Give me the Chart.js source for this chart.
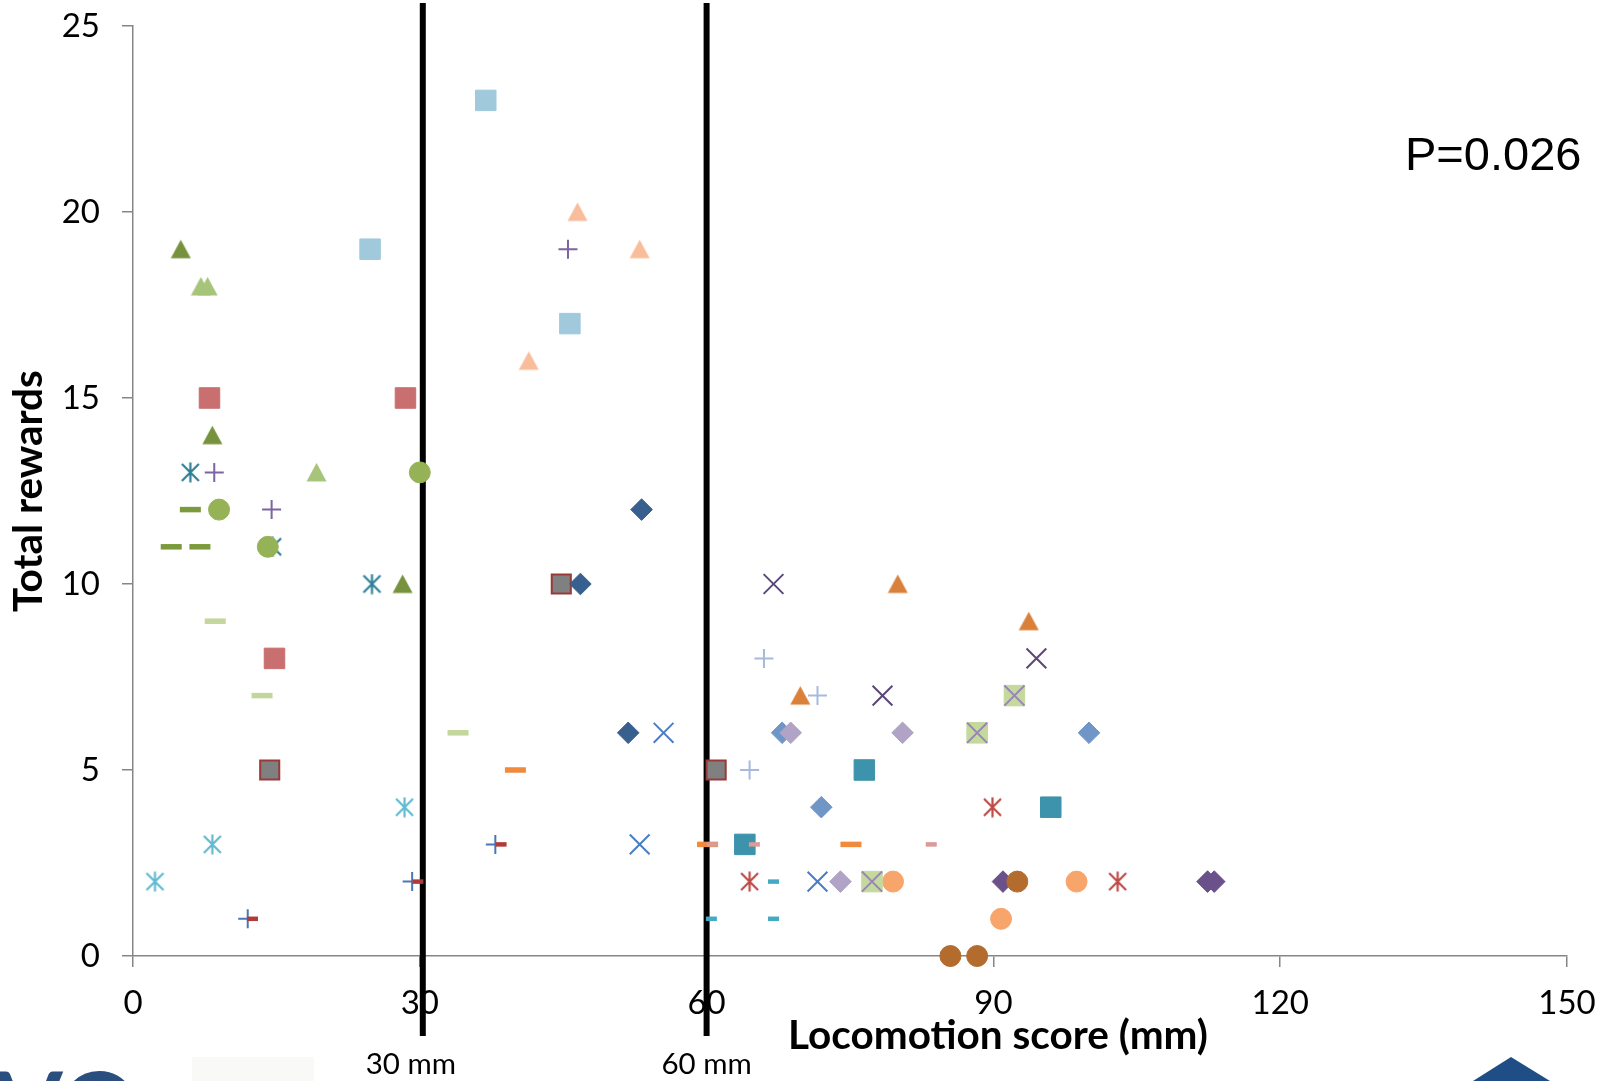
<!DOCTYPE html>
<html>
<head>
<meta charset="utf-8">
<script src="https://cdn.jsdelivr.net/npm/chart.js@4.4.1/dist/chart.umd.min.js"></script>
<style>
    html, body { margin: 0; padding: 0; background: #fff; }
</style>
</head>
<body>
<canvas id="myChart" width="1608" height="1081"></canvas>
<script>
const xTicks = [0, 30, 60, 90, 120, 150];
const yTicks = [0, 5, 10, 15, 20, 25];
const thresholds = [30, 60];
const thresholdLabels = ['30 mm', '60 mm'];
const xTitle = 'Locomotion score (mm)';
const yTitle = 'Total rewards';
const pValueText = 'P=0.026';

// one row per animal, three sessions each
const locomotion = [
    [5.0, 8.3, 28.2],
    [7.1, 7.8, 19.2],
    [8.0, 14.8, 28.5],
    [6.0, 14.6, 25.0],
    [8.5, 14.5, 45.5],
    [6.0, 4.0, 7.0],
    [9.0, 14.1, 30.0],
    [8.6, 13.5, 34.0],
    [14.3, 44.8, 61.0],
    [2.3, 8.3, 28.4],
    [12.0, 29.2, 37.9],
    [12.5, 29.8, 38.5],
    [24.8, 36.9, 45.7],
    [41.4, 46.5, 53.0],
    [46.8, 51.8, 53.2],
    [40.0, 60.1, 75.1],
    [53.0, 55.5, 71.6],
    [60.6, 65.0, 83.5],
    [64.0, 76.5, 96.0],
    [60.5, 67.0, 67.0],
    [64.5, 89.9, 103.0],
    [67.0, 78.4, 94.5],
    [69.8, 80.0, 93.7],
    [64.5, 66.0, 71.6],
    [67.9, 72.0, 100.0],
    [68.8, 74.0, 80.5],
    [77.3, 88.3, 92.2],
    [79.5, 90.8, 98.7],
    [85.5, 88.3, 92.5],
    [91.0, 112.4, 113.1]
];
const rewards = [
    [19, 14, 10],
    [18, 18, 13],
    [15, 8, 15],
    [13, 11, 10],
    [13, 12, 19],
    [12, 11, 11],
    [12, 11, 13],
    [9, 7, 6],
    [5, 10, 5],
    [2, 3, 4],
    [1, 2, 3],
    [1, 2, 3],
    [19, 23, 17],
    [16, 20, 19],
    [10, 6, 12],
    [5, 3, 3],
    [3, 6, 2],
    [3, 3, 3],
    [3, 5, 4],
    [1, 2, 1],
    [2, 4, 2],
    [10, 7, 8],
    [7, 10, 9],
    [5, 8, 7],
    [6, 4, 6],
    [6, 2, 6],
    [2, 6, 7],
    [2, 1, 2],
    [0, 0, 2],
    [2, 2, 2]
];

// marker look per row, first one is drawn on top
const markerStyles = [
    { row: 11, shape: 'line', color: '#B03C3A', r: 5.5, lw: 4.5 },
    { row: 10, shape: 'cross', color: '#4A77B8', r: 9.5, lw: 2 },
    { row: 17, shape: 'line', color: '#D99A98', r: 5.5, lw: 4.5 },
    { row: 15, shape: 'line', color: '#F08A3C', r: 10.5, lw: 5.5 },
    { row: 18, shape: 'rect', color: '#3D93AB', r: 14.5 },
    { row: 26, shape: 'crossRot', color: '#9A85B8', r: 14.2, lw: 2 },
    { row: 26, shape: 'rect', color: '#C4D99C', r: 14.5 },
    { row: 6, shape: 'circle', color: '#95B356', r: 10.5 },
    { row: 3, shape: 'star', color: '#2F8097', r: 21 },
    { row: 28, shape: 'circle', color: '#B36B2E', r: 10.5 },
    { row: 29, shape: 'rectRot', color: '#6A5189', r: 10.8 },
    { row: 25, shape: 'rectRot', color: '#B1A3C6', r: 10.8 },
    { row: 24, shape: 'rectRot', color: '#7096C8', r: 10.8 },
    { row: 14, shape: 'rectRot', color: '#38608F', r: 10.8 },
    { row: 8, shape: 'rect', color: '#808080', edge: '#983A38', r: 13.5, lw: 2 },
    { row: 0, shape: 'tri', color: '#76923C', r: 21 },
    { row: 1, shape: 'tri', color: '#A6C47A', r: 21 },
    { row: 2, shape: 'rect', color: '#C96F6F', r: 14.5 },
    { row: 4, shape: 'cross', color: '#7E62A1', r: 9.5, lw: 2 },
    { row: 5, shape: 'line', color: '#7A9A3C', r: 10.5, lw: 5.5 },
    { row: 7, shape: 'line', color: '#C3D69B', r: 10.5, lw: 5.5 },
    { row: 9, shape: 'star', color: '#62BAD0', r: 21 },
    { row: 12, shape: 'rect', color: '#A0CADB', r: 14.5 },
    { row: 13, shape: 'tri', color: '#F8BE9C', r: 21 },
    { row: 16, shape: 'crossRot', color: '#4A7EC4', r: 14, lw: 2 },
    { row: 19, shape: 'line', color: '#45A9C4', r: 5.5, lw: 4.5 },
    { row: 20, shape: 'star', color: '#BF4B48', r: 21 },
    { row: 21, shape: 'crossRot', color: '#5C4778', r: 14, lw: 2 },
    { row: 22, shape: 'tri', color: '#D9803A', r: 21 },
    { row: 23, shape: 'cross', color: '#A5BADD', r: 9.5, lw: 2 },
    { row: 27, shape: 'circle', color: '#F8A56B', r: 10.5 }
];

// excel style asterisk: an X with a vertical bar
function makeAsterisk(color, size) {
    const c = document.createElement('canvas');
    c.width = size;
    c.height = size;
    const g = c.getContext('2d');
    g.strokeStyle = color;
    g.lineWidth = 2.2;
    const m = 2;
    g.beginPath();
    g.moveTo(m, m); g.lineTo(size - m, size - m);
    g.moveTo(size - m, m); g.lineTo(m, size - m);
    g.moveTo(size / 2, 0.5); g.lineTo(size / 2, size - 0.5);
    g.stroke();
    return c;
}

// triangle centred on its box, like the excel marker
function makeTriangle(color, size) {
    const c = document.createElement('canvas');
    c.width = size;
    c.height = size;
    const g = c.getContext('2d');
    g.fillStyle = color;
    g.beginPath();
    g.moveTo(size / 2, 1);
    g.lineTo(size - 0.5, size - 1.5);
    g.lineTo(0.5, size - 1.5);
    g.closePath();
    g.fill();
    return c;
}

function pointStyleFor(s) {
    if (s.shape === 'star') return makeAsterisk(s.color, s.r);
    if (s.shape === 'tri') return makeTriangle(s.color, s.r);
    return s.shape;
}

const datasets = markerStyles.map(s => {
    const xs = locomotion[s.row];
    const ys = rewards[s.row];
    const custom = s.shape === 'star' || s.shape === 'tri';
    return {
        data: xs.map((x, i) => ({ x: x, y: ys[i] })),
        clip: false,
        pointRadius: custom ? 10 : s.r,
        pointHoverRadius: custom ? 10 : s.r,
        pointStyle: pointStyleFor(s),
        backgroundColor: s.color,
        borderColor: s.edge || s.color,
        pointBorderWidth: s.lw || 1
    };
});

// the two threshold lines sit a hair off their values in the slide
const lineNudge = [3, 0];
const labelNudge = [-9, 0];

const overlay = {
    id: 'overlay',
    beforeDatasetsDraw(chart) {
        const { ctx, scales: { x } } = chart;
        ctx.save();
        ctx.strokeStyle = '#000';
        ctx.lineWidth = 6;
        thresholds.forEach((v, i) => {
            const px = x.getPixelForValue(v) + lineNudge[i];
            ctx.beginPath();
            ctx.moveTo(px, 3);
            ctx.lineTo(px, 1036);
            ctx.stroke();
        });
        ctx.restore();
    },
    afterDraw(chart) {
        const { ctx, scales: { x } } = chart;
        ctx.save();
        ctx.fillStyle = '#000';
        ctx.textAlign = 'center';
        ctx.textBaseline = 'middle';

        ctx.font = '29.5px Lato';
        thresholds.forEach((v, i) => {
            ctx.fillText(thresholdLabels[i], x.getPixelForValue(v) + labelNudge[i], 1064);
        });

        ctx.font = 'bold 40.5px Lato';
        ctx.fillText(xTitle, 998, 1036);

        ctx.save();
        ctx.translate(29, 491);
        ctx.rotate(-Math.PI / 2);
        ctx.fillText(yTitle, 0, 0);
        ctx.restore();

        ctx.textAlign = 'left';
        ctx.textBaseline = 'alphabetic';
        ctx.font = '47px "Liberation Sans", Arial';
        ctx.fillText(pValueText, 1405, 170);

        // bits of the slide logos cut by the bottom edge
        ctx.fillStyle = '#F9FAF7';
        ctx.fillRect(192, 1057, 122, 24);
        ctx.fillStyle = '#2A4F7F';
        ctx.font = 'bold 96px Lato';
        ctx.fillText('VO', -4, 1141);
        ctx.fillStyle = '#1F4E86';
        ctx.beginPath();
        ctx.moveTo(1511, 1057);
        ctx.lineTo(1550, 1081);
        ctx.lineTo(1473, 1081);
        ctx.closePath();
        ctx.fill();
        ctx.restore();
    }
};

const axisGrey = '#868686';
const ctx = document.getElementById('myChart').getContext('2d');
new Chart(ctx, {
    type: 'scatter',
    data: { datasets: datasets },
    options: {
        responsive: false,
        animation: false,
        events: [],
        layout: { padding: { left: 0, right: 41, top: 26, bottom: 0 } },
        plugins: {
            legend: { display: false },
            tooltip: { enabled: false }
        },
        scales: {
            x: {
                type: 'linear',
                min: 0,
                max: 150,
                afterBuildTicks: s => { s.ticks = xTicks.map(v => ({ value: v })); },
                afterFit: s => {
                    s.height = 125;
                    s.paddingLeft = 0;
                    s.paddingRight = 0;
                },
                grid: { display: true, drawOnChartArea: false, drawTicks: true, tickLength: 11, color: axisGrey, lineWidth: 1.5 },
                border: { display: true, color: axisGrey, width: 1.5 },
                ticks: { color: '#000', font: { family: 'Lato', size: 33 }, padding: 17, maxRotation: 0, autoSkip: false }
            },
            y: {
                type: 'linear',
                min: 0,
                max: 25,
                afterBuildTicks: s => { s.ticks = yTicks.map(v => ({ value: v })); },
                afterFit: s => {
                    s.width = 133;
                    s.paddingTop = 0;
                    s.paddingBottom = 0;
                },
                grid: { display: true, drawOnChartArea: false, drawTicks: true, tickLength: 11, color: axisGrey, lineWidth: 1.5 },
                border: { display: true, color: axisGrey, width: 1.5 },
                ticks: { color: '#000', font: { family: 'Lato', size: 33 }, padding: 22, autoSkip: false }
            }
        }
    },
    plugins: [overlay]
});
</script>
</body>
</html>
